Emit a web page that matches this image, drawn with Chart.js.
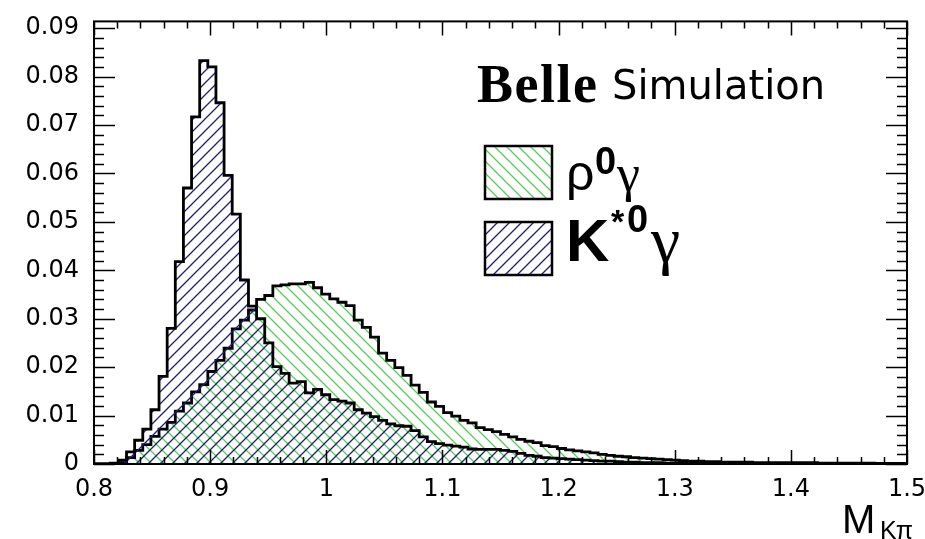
<!DOCTYPE html>
<html>
<head>
<meta charset="utf-8">
<script src="https://cdn.jsdelivr.net/npm/chart.js@4.4.1/dist/chart.umd.min.js"></script>
<style>
  html, body { margin: 0; padding: 0; background: #fff; }
  #wrap { position: relative; width: 925px; height: 539px; overflow: hidden; }
  .lbl { position: absolute; white-space: nowrap; line-height: 1; color: #000; }
</style>
</head>
<body>
<div id="wrap">
  <canvas id="chart" width="925" height="539"></canvas>
  <div class="lbl" style="left:477px; top:53px; font: bold 54px 'Liberation Serif'; letter-spacing: 1.5px;">Belle</div>
  <div class="lbl" style="left:612px; top:62px; font: 40px 'DejaVu Sans';">Simulation</div>
  <div class="lbl" style="left:566px; top:144px; font: 50px 'Liberation Sans';">ρ</div>
  <div class="lbl" style="left:595px; top:140px; font: bold 38px 'Liberation Sans';">0</div>
  <div class="lbl" style="left:617px; top:144px; font: 52px 'Liberation Serif';">γ</div>
  <div class="lbl" style="left:566px; top:206px; font: bold 60px 'Liberation Sans';">K</div>
  <div class="lbl" style="left:611px; top:202px; font: bold 34px 'Liberation Sans';">*</div>
  <div class="lbl" style="left:627px; top:198px; font: bold 38px 'Liberation Sans';">0</div>
  <div class="lbl" style="left:651px; top:202px; font: 66px 'Liberation Serif';">γ</div>
  <div class="lbl" style="left:842px; top:497px; font: 40px 'Liberation Sans';">M</div>
  <div class="lbl" style="left:880px; top:516px; font: 25px 'Liberation Sans'; letter-spacing: -1px;">Kπ</div>
</div>
<script>
// M(K pi) histogram, 100 bins of 0.007 from 0.8 to 1.5
const binStart = 0.8;
const binWidth = 0.007;

const rhoGamma = [
  0, 0, 0, 0.0003, 0.0013, 0.0028, 0.0040, 0.0057, 0.0072, 0.0086,
  0.0109, 0.0126, 0.0149, 0.0164, 0.0191, 0.0214, 0.0239, 0.0279, 0.0297, 0.0318,
  0.0340, 0.0348, 0.0368, 0.0370, 0.0372, 0.0372, 0.0375, 0.0364, 0.0351, 0.0341,
  0.0334, 0.0327, 0.0297, 0.0282, 0.0262, 0.0229, 0.0214, 0.0199, 0.0183, 0.0163,
  0.0148, 0.0128, 0.0119, 0.0106, 0.0099, 0.0090, 0.0085, 0.0075, 0.0071, 0.0067,
  0.0061, 0.0056, 0.0051, 0.0047, 0.0044, 0.0038, 0.0036, 0.0032, 0.0029, 0.0027,
  0.0025, 0.0023, 0.0020, 0.0018, 0.0016, 0.0015, 0.0013, 0.0012, 0.0011, 0.0010,
  0.0009, 0.0008, 0.0007, 0.0006, 0.0006, 0.0005, 0.0005, 0.0004, 0.0004, 0.0004,
  0.0004, 0.0003, 0.0003, 0.0003, 0.0003, 0.0003, 0.0003, 0.0003, 0.0003, 0.0002,
  0.0002, 0.0002, 0.0002, 0.0002, 0.0002, 0.0002, 0.0001, 0.0001, 0.0001, 0.0001
];

const kstarGamma = [
  0, 0, 0.0002, 0.0008, 0.0025, 0.0049, 0.0072, 0.0112, 0.0181, 0.0280,
  0.0418, 0.0570, 0.0717, 0.0833, 0.0820, 0.0746, 0.0596, 0.0516, 0.0380, 0.0326,
  0.0300, 0.0250, 0.0201, 0.0187, 0.0167, 0.0170, 0.0147, 0.0154, 0.0143, 0.0133,
  0.0130, 0.0126, 0.0112, 0.0105, 0.0098, 0.0090, 0.0083, 0.0079, 0.0078, 0.0069,
  0.0056, 0.0046, 0.0042, 0.0039, 0.0037, 0.0035, 0.0031, 0.0030, 0.0030, 0.0030,
  0.0028, 0.0026, 0.0022, 0.0018, 0.0016, 0.0013, 0.0012, 0.0011, 0.0010, 0.0009,
  0.0008, 0.0007, 0.0006, 0.0006, 0.0005, 0.0004, 0.0004, 0.0003, 0.0003, 0.0003,
  0.0002, 0.0002, 0.0002, 0.0002, 0.0001, 0.0001, 0.0001, 0.0001, 0.0001, 0.0001,
  0.0001, 0.0001, 0.0001, 0.0001, 0.0001, 0.0001, 0, 0, 0, 0,
  0, 0, 0, 0, 0, 0, 0, 0, 0, 0
];

const xTickLabels = ['0.8', '0.9', '1', '1.1', '1.2', '1.3', '1.4', '1.5'];
const yTickLabels = ['0', '0.01', '0.02', '0.03', '0.04', '0.05', '0.06', '0.07', '0.08', '0.09'];

const greenHatch = '#5cc95c';
const blueHatch = '#1c1c82';

// diagonal hatch pattern, dir 1 = "/" , -1 = "\"
function hatch(color, dir) {
  const s = 12;
  const c = document.createElement('canvas');
  c.width = s; c.height = s;
  const g = c.getContext('2d');
  g.strokeStyle = color;
  g.lineWidth = 1.3;
  g.beginPath();
  if (dir > 0) {
    g.moveTo(-1, s + 1); g.lineTo(s + 1, -1);
    g.moveTo(-1, 1); g.lineTo(1, -1);
    g.moveTo(s - 1, s + 1); g.lineTo(s + 1, s - 1);
  } else {
    g.moveTo(-1, -1); g.lineTo(s + 1, s + 1);
    g.moveTo(s - 1, -1); g.lineTo(s + 1, 1);
    g.moveTo(-1, s - 1); g.lineTo(1, s + 1);
  }
  g.stroke();
  return g.createPattern(c, 'repeat');
}

// bin left edges + closing point; 'before' keeps each value over its own bin
function toSteps(vals) {
  const pts = vals.map((v, i) => ({x: binStart + i * binWidth, y: v}));
  pts.push({x: binStart + vals.length * binWidth, y: 0});
  return pts;
}

const ctx = document.getElementById('chart').getContext('2d');
const greenPat = hatch(greenHatch, -1);
const bluePat = hatch(blueHatch, 1);

const frameTicks = {
  id: 'frameTicks',
  afterDraw(chart) {
    const {ctx, chartArea: a, scales: {x, y}} = chart;
    ctx.save();
    ctx.strokeStyle = '#000';
    ctx.lineWidth = 1.5;
    ctx.beginPath();
    for (let i = 0; i <= 45; i++) {
      const v = i * 0.002;
      if (v > y.max) break;
      const py = Math.round(y.getPixelForValue(v)) + 0.5;
      const len = i % 5 === 0 ? 21 : 10;
      ctx.moveTo(a.left, py); ctx.lineTo(a.left + len, py);
      ctx.moveTo(a.right, py); ctx.lineTo(a.right - len, py);
    }
    for (let i = 0; i <= 35; i++) {
      const px = Math.round(x.getPixelForValue(0.8 + i * 0.02)) + 0.5;
      const len = i % 5 === 0 ? 14 : 7;
      ctx.moveTo(px, a.bottom); ctx.lineTo(px, a.bottom - len);
      ctx.moveTo(px, a.top); ctx.lineTo(px, a.top + len);
    }
    ctx.stroke();
    ctx.lineWidth = 2;
    ctx.strokeRect(a.left, a.top, a.right - a.left, a.bottom - a.top);

    // legend boxes
    const boxes = [[485, 146, greenPat], [485, 222, bluePat]];
    boxes.forEach(([bx, by, pat]) => {
      ctx.fillStyle = '#fff';
      ctx.fillRect(bx, by, 67, 53);
      ctx.fillStyle = pat;
      ctx.fillRect(bx, by, 67, 53);
      ctx.lineWidth = 2.5;
      ctx.strokeRect(bx, by, 67, 53);
    });
    ctx.restore();
  }
};

new Chart(ctx, {
  type: 'line',
  data: {
    datasets: [
      {
        label: 'ρ0γ',
        data: toSteps(rhoGamma),
        stepped: 'before',
        borderColor: '#000',
        borderWidth: 2.8,
        backgroundColor: greenPat,
        fill: 'origin',
        pointRadius: 0,
        order: 2
      },
      {
        label: 'K*0γ',
        data: toSteps(kstarGamma),
        stepped: 'before',
        borderColor: '#000',
        borderWidth: 2.8,
        backgroundColor: bluePat,
        fill: 'origin',
        pointRadius: 0,
        order: 1
      }
    ]
  },
  options: {
    responsive: false,
    animation: false,
    layout: {padding: {left: 0, right: 18, top: 18, bottom: 0}},
    plugins: {legend: {display: false}, tooltip: {enabled: false}},
    scales: {
      x: {
        type: 'linear',
        min: 0.8,
        max: 1.5,
        grid: {display: false},
        border: {display: false},
        ticks: {
          stepSize: 0.1,
          autoSkip: false,
          maxRotation: 0,
          includeBounds: false,
          padding: 3,
          color: '#000',
          font: {family: 'DejaVu Sans', size: 24},
          callback: v => xTickLabels[Math.round((v - 0.8) / 0.1)]
        },
        afterFit: s => { s.height = 75; s.paddingLeft = 0; s.paddingRight = 0; }
      },
      y: {
        min: 0,
        max: 0.0914,
        grid: {display: false},
        border: {display: false},
        ticks: {
          stepSize: 0.01,
          includeBounds: false,
          padding: 7,
          color: '#000',
          font: {family: 'DejaVu Sans', size: 24},
          callback: v => yTickLabels[Math.round(v / 0.01)]
        },
        afterFit: s => { s.width = 94; }
      }
    }
  },
  plugins: [frameTicks]
});
</script>
</body>
</html>
